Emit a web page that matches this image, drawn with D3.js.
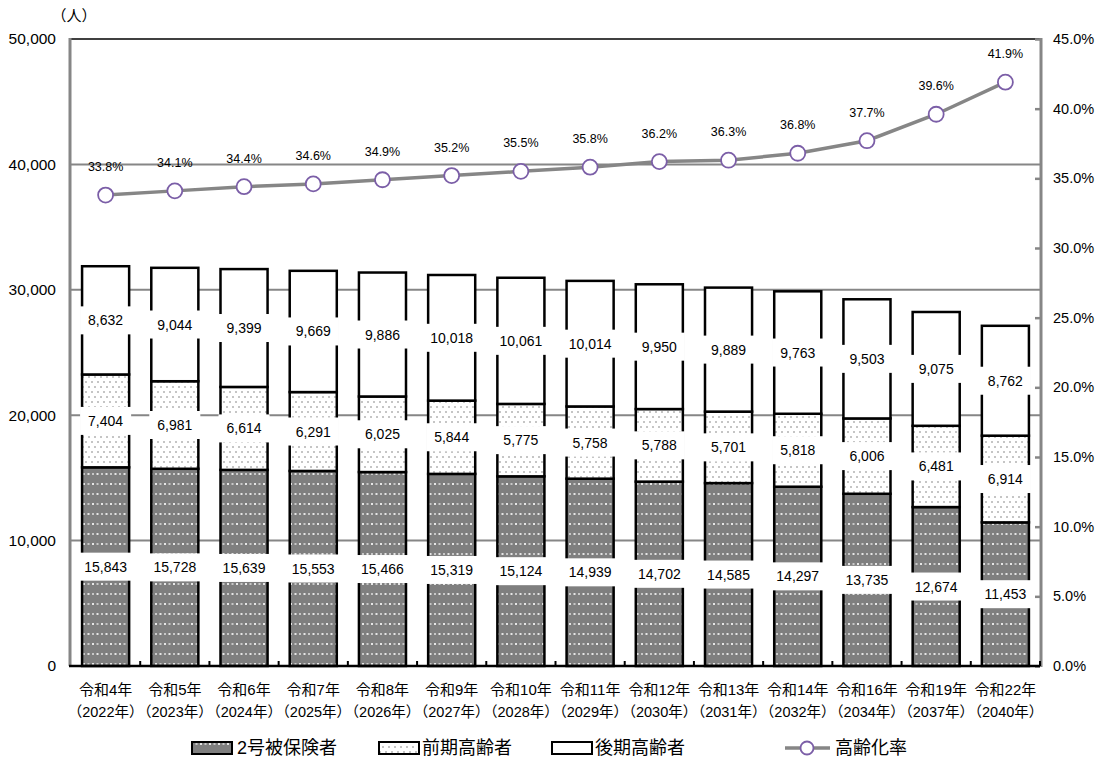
<!DOCTYPE html>
<html lang="ja">
<head>
<meta charset="utf-8">
<script src="https://cdn.jsdelivr.net/npm/d3@7"></script>
<style>
  html, body { margin: 0; padding: 0; background: #fff; }
  svg { display: block; font-family: "Liberation Sans", "Noto Sans CJK JP", sans-serif; }
</style>
</head>
<body>
<svg id="chart" width="1102" height="765"></svg>
<script>
// Fiscal years (Reiwa era) with the Western year underneath
const yearsJa = ["令和4年","令和5年","令和6年","令和7年","令和8年","令和9年","令和10年","令和11年","令和12年","令和13年","令和14年","令和16年","令和19年","令和22年"];
const yearsAd = ["（2022年）","（2023年）","（2024年）","（2025年）","（2026年）","（2027年）","（2028年）","（2029年）","（2030年）","（2031年）","（2032年）","（2034年）","（2037年）","（2040年）"];

// Population by insured category (persons)
const insured2 = [15843,15728,15639,15553,15466,15319,15124,14939,14702,14585,14297,13735,12674,11453];
const earlyElderly = [7404,6981,6614,6291,6025,5844,5775,5758,5788,5701,5818,6006,6481,6914];
const lateElderly = [8632,9044,9399,9669,9886,10018,10061,10014,9950,9889,9763,9503,9075,8762];

// Aging rate (%)
const agingRate = [33.8,34.1,34.4,34.6,34.9,35.2,35.5,35.8,36.2,36.3,36.8,37.7,39.6,41.9];

const seriesNames = ["2号被保険者","前期高齢者","後期高齢者","高齢化率"];
const leftTicks = [0,10000,20000,30000,40000,50000];
const rightTicks = [0,5,10,15,20,25,30,35,40,45];

const svg = d3.select("#chart");
const plotL = 71, plotR = 1040, plotT = 39, plotB = 666;

const x = d3.scaleBand().domain(yearsJa).range([plotL, plotR]).paddingInner(0.32).paddingOuter(0.16);
const y = d3.scaleLinear().domain([0, 50000]).range([plotB, plotT]);
const y2 = d3.scaleLinear().domain([0, 45]).range([plotB, plotT]);

// Fill patterns
const defs = svg.append("defs");
const pDark = defs.append("pattern").attr("id", "pat-dark").attr("patternUnits", "userSpaceOnUse")
  .attr("width", 18).attr("height", 20);
pDark.append("rect").attr("width", 18).attr("height", 20).attr("fill", "#7f7f7f");
[[3,4],[12,4],[7.5,14],[16.5,14]].forEach(([cx, cy]) =>
  pDark.append("rect").attr("x", cx - 1).attr("y", cy - 1).attr("width", 2).attr("height", 2).attr("fill", "#e6e6e6"));
[[7.5,4],[16.5,4],[3,14],[12,14]].forEach(([cx, cy]) =>
  pDark.append("rect").attr("x", cx - 1).attr("y", cy - 1).attr("width", 2).attr("height", 2).attr("fill", "#c8c8c8"));

const pLight = defs.append("pattern").attr("id", "pat-light").attr("patternUnits", "userSpaceOnUse")
  .attr("width", 12).attr("height", 10);
pLight.append("rect").attr("width", 12).attr("height", 10).attr("fill", "#fff");
[[2,2],[8,2],[5,7],[11,7]].forEach(([cx, cy]) =>
  pLight.append("rect").attr("x", cx - 0.8).attr("y", cy - 0.8).attr("width", 1.6).attr("height", 1.6).attr("fill", "#a6a6a6"));

// Gridlines
svg.append("g").selectAll("line").data([10000,20000,30000,40000]).join("line")
  .attr("x1", plotL).attr("x2", plotR).attr("y1", d => y(d)).attr("y2", d => y(d))
  .attr("stroke", "#868686").attr("stroke-width", 2);
svg.append("line").attr("x1", plotL).attr("x2", plotR).attr("y1", y(50000)).attr("y2", y(50000))
  .attr("stroke", "#000").attr("stroke-width", 1.5);

// Stacked bars
const rows = yearsJa.map((k, i) => ({ key: k, insured2: insured2[i], early: earlyElderly[i], late: lateElderly[i] }));
const stack = d3.stack().keys(["insured2", "early", "late"])(rows);
const fills = ["url(#pat-dark)", "url(#pat-light)", "#fff"];

const barG = svg.append("g");
stack.forEach((layer, li) => {
  barG.append("g").selectAll("rect").data(layer).join("rect")
    .attr("x", d => x(d.data.key))
    .attr("width", x.bandwidth())
    .attr("y", d => y(d[1]))
    .attr("height", d => y(d[0]) - y(d[1]))
    .attr("fill", fills[li])
    .attr("stroke", "#000").attr("stroke-width", 2.5);
});

// Value labels with white backing boxes
const fmt = d3.format(",");
const labG = svg.append("g");
stack.forEach(layer => {
  layer.forEach(d => {
    const cx = x(d.data.key) + x.bandwidth() / 2;
    const cy = y((d[0] + d[1]) / 2);
    const g = labG.append("g");
    const t = g.append("text").attr("x", cx).attr("y", cy).attr("dy", "0.36em")
      .attr("text-anchor", "middle").attr("font-size", 14).attr("fill", "#000")
      .text(fmt(d[1] - d[0]));
    const w = t.node().getComputedTextLength() + 16;
    g.insert("rect", "text").attr("x", cx - w / 2).attr("y", cy - 14).attr("width", w).attr("height", 28).attr("fill", "#fff");
  });
});

// Axes
const axL = svg.append("g").attr("transform", `translate(${plotL},0)`)
  .call(d3.axisLeft(y).tickValues(leftTicks).tickSize(0).tickPadding(15).tickFormat(fmt));
axL.select(".domain").remove();
axL.selectAll("text").attr("font-size", 15.5).attr("fill", "#000").attr("font-family", "Liberation Sans, sans-serif");
svg.append("line").attr("x1", plotL - 1).attr("x2", plotL - 1).attr("y1", plotT - 1).attr("y2", plotB)
  .attr("stroke", "#868686").attr("stroke-width", 3);

const axR = svg.append("g").attr("transform", `translate(${plotR},0)`)
  .call(d3.axisRight(y2).tickValues(rightTicks).tickSize(-5).tickPadding(13).tickFormat(d => d.toFixed(1) + "%"));
axR.select(".domain").remove();
axR.selectAll(".tick line").attr("stroke", "#868686").attr("stroke-width", 2.5);
axR.selectAll("text").attr("font-size", 14.5).attr("fill", "#000").attr("font-family", "Liberation Sans, sans-serif");
svg.append("line").attr("x1", plotR + 1).attr("x2", plotR + 1).attr("y1", plotT - 1).attr("y2", plotB + 1)
  .attr("stroke", "#868686").attr("stroke-width", 3);

// Category axis
const axB = svg.append("g").attr("transform", `translate(0,${plotB})`)
  .call(d3.axisBottom(x).tickSize(0).tickPadding(0).tickFormat(() => ""));
axB.select(".domain").remove();
svg.append("line").attr("x1", plotL - 2).attr("x2", plotR).attr("y1", plotB).attr("y2", plotB)
  .attr("stroke", "#000").attr("stroke-width", 2.5);
svg.append("g").selectAll("line").data(d3.range(1, yearsJa.length + 1)).join("line")
  .attr("x1", i => plotL + i * x.step()).attr("x2", i => plotL + i * x.step())
  .attr("y1", plotB).attr("y2", plotB - 5)
  .attr("stroke", "#000").attr("stroke-width", 2);

const catG = svg.append("g");
yearsJa.forEach((k, i) => {
  const cx = x(k) + x.bandwidth() / 2;
  catG.append("text").attr("x", cx).attr("y", 695).attr("text-anchor", "middle")
    .attr("font-size", 15).attr("fill", "#000").text(k);
  catG.append("text").attr("x", cx).attr("y", 717).attr("text-anchor", "middle")
    .attr("font-size", 14.5).attr("fill", "#000").text(yearsAd[i]);
});

// Unit label
svg.append("text").attr("x", 74).attr("y", 21).attr("text-anchor", "middle")
  .attr("font-size", 15).attr("fill", "#000").text("（人）");

// Aging-rate line
const pts = yearsJa.map((k, i) => [x(k) + x.bandwidth() / 2, y2(agingRate[i])]);
svg.append("path").attr("d", d3.line()(pts)).attr("fill", "none")
  .attr("stroke", "#868686").attr("stroke-width", 3.5);
svg.append("g").selectAll("circle").data(pts).join("circle")
  .attr("cx", d => d[0]).attr("cy", d => d[1]).attr("r", 7.5)
  .attr("fill", "#fff").attr("stroke", "#7b5ea7").attr("stroke-width", 1.8);
svg.append("g").selectAll("text").data(pts).join("text")
  .attr("x", d => d[0]).attr("y", d => d[1] - 24).attr("text-anchor", "middle")
  .attr("font-size", 12.5).attr("fill", "#000")
  .text((d, i) => agingRate[i].toFixed(1) + "%");

// Legend
const lg = svg.append("g");
const ly = 748;
const swatches = [
  { x: 192, fill: "url(#pat-dark)", tx: 237 },
  { x: 379, fill: "url(#pat-light)", tx: 422 },
  { x: 552, fill: "#fff", tx: 595 }
];
swatches.forEach((s, i) => {
  lg.append("rect").attr("x", s.x).attr("y", ly - 6).attr("width", 40).attr("height", 12)
    .attr("fill", s.fill).attr("stroke", "#000").attr("stroke-width", 2);
  lg.append("text").attr("x", s.tx).attr("y", ly).attr("dy", "0.36em")
    .attr("font-size", 18).attr("fill", "#000").text(seriesNames[i]);
});
lg.append("line").attr("x1", 785).attr("x2", 830).attr("y1", ly).attr("y2", ly)
  .attr("stroke", "#868686").attr("stroke-width", 3.5);
lg.append("circle").attr("cx", 807).attr("cy", ly).attr("r", 6.5)
  .attr("fill", "#fff").attr("stroke", "#7b5ea7").attr("stroke-width", 1.8);
lg.append("text").attr("x", 835).attr("y", ly).attr("dy", "0.36em")
  .attr("font-size", 18).attr("fill", "#000").text(seriesNames[3]);
</script>
</body>
</html>
